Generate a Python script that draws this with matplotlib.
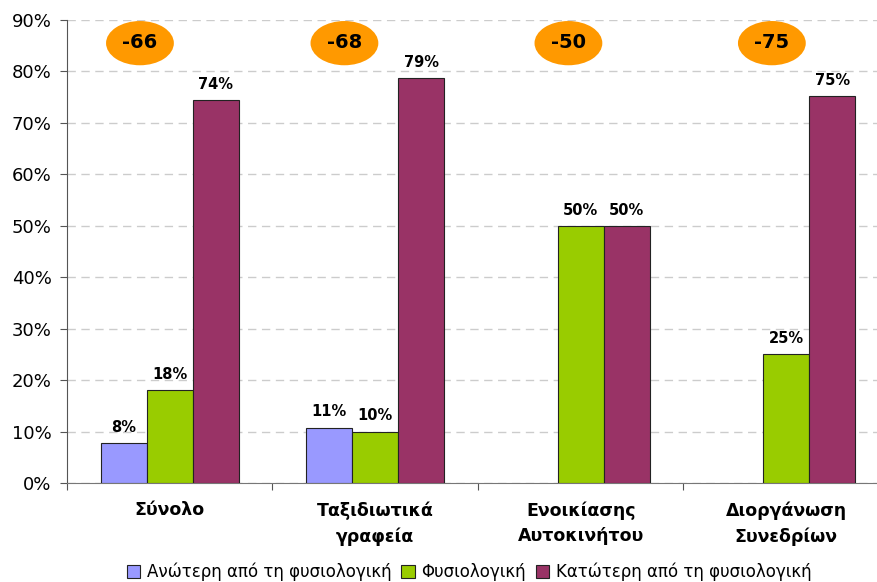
import numpy as np
import matplotlib.pyplot as plt
from matplotlib.patches import Ellipse, Patch

# data
categories = ["Σύνολο", "Ταξιδιωτικά\nγραφεία", "Ενοικίασης\nΑυτοκινήτου", "Διοργάνωση\nΣυνεδρίων"]
series_names = ["Ανώτερη από τη φυσιολογική", "Φυσιολογική", "Κατώτερη από τη φυσιολογική"]
higher = [7.7, 10.75, 0, 0]
normal = [18.0, 10.0, 50.0, 25.0]
lower = [74.45, 78.7, 50.0, 75.2]
balance = [-66, -68, -50, -75]
balance_x = [-0.145, 0.85, 1.94, 2.93]

colors = ["#9999FF", "#99CC00", "#993366"]

fig = plt.figure(figsize=(8.78, 5.82), dpi=100)
ax = fig.add_axes([67 / 878, 99 / 582, 822 / 878, 463 / 582])

x = np.arange(len(categories))
w = 0.224
for k, (vals, col) in enumerate(zip([higher, normal, lower], colors)):
    pos = x + (k - 1) * w
    for xi, v in zip(pos, vals):
        if v <= 0:
            continue
        ax.bar(xi, v, width=w, color=col, edgecolor="#222222", linewidth=0.8, zorder=3)
        ax.text(xi, v + 1.6, f"{round(v):.0f}%", ha="center", va="bottom",
                fontsize=10.5, fontweight="bold", zorder=4)

# orange ellipses with balance values
for bx, b in zip(balance_x, balance):
    ax.add_patch(Ellipse((bx, 85.5), 0.33, 8.6, facecolor="#FF9900", edgecolor="none", zorder=4))
    ax.text(bx, 85.6, str(b), ha="center", va="center", fontsize=14, fontweight="bold", zorder=5)

ax.set_xlim(-0.5, 3.5)
ax.set_ylim(0, 90)
ax.set_yticks(np.arange(0, 91, 10))
ax.set_yticklabels([f"{v}%" for v in range(0, 91, 10)], fontsize=13)
ax.yaxis.grid(True, linestyle=(0, (6, 4)), color="#CCCCCC", linewidth=1, zorder=0)

ax.set_xticks(np.arange(-0.5, 3.6, 1.0))
ax.set_xticklabels([])
ax.set_xticks(x, minor=True)
ax.set_xticklabels(categories, minor=True, fontsize=12.5, fontweight="bold", linespacing=1.55)
ax.tick_params(axis="x", which="minor", length=0, pad=13)
ax.tick_params(axis="x", which="major", length=5, direction="out", color="#555555")
ax.tick_params(axis="y", length=5, direction="out", color="#555555", pad=6)

for s in ["top", "right"]:
    ax.spines[s].set_visible(False)
ax.spines["left"].set_color("#555555")
ax.spines["bottom"].set_color("#777777")

handles = [Patch(facecolor=c, edgecolor="#222222", linewidth=0.8) for c in colors]
fig.legend(handles, series_names, loc="center", bbox_to_anchor=(469 / 878, 10 / 582),
           ncol=3, frameon=False, fontsize=12, handlelength=0.8, handleheight=0.8,
           handletextpad=0.4, columnspacing=0.6)

fig.savefig("out.png", dpi=100)
